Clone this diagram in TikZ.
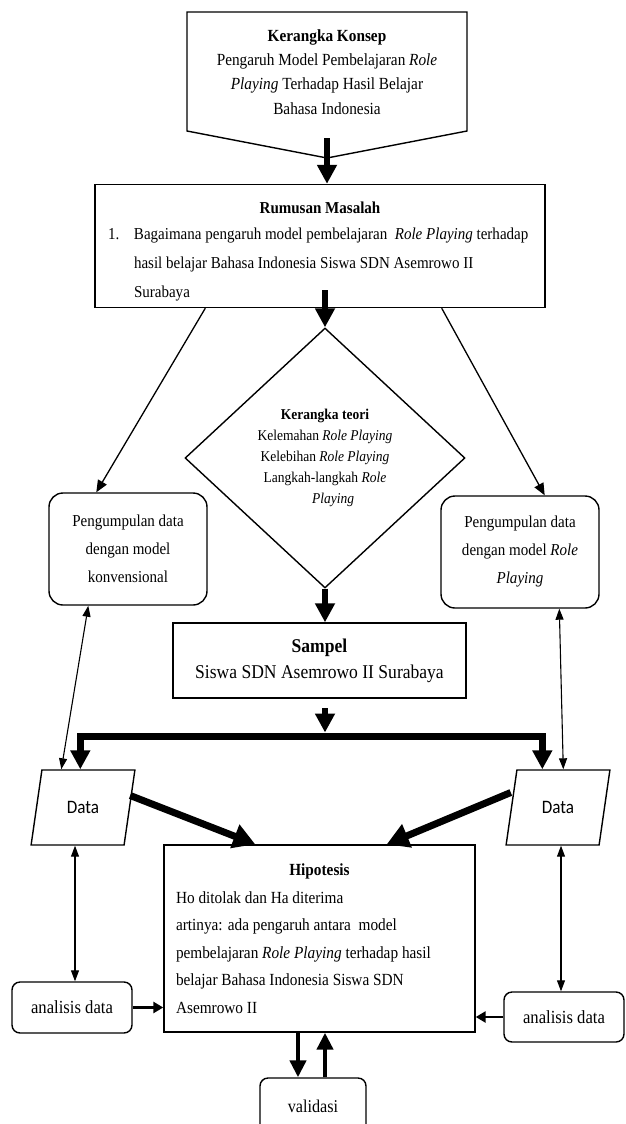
\documentclass[tikz,border=0pt]{standalone}
\usepackage{fontspec}
\setmainfont{Liberation Serif}[FakeStretch=0.9]
\newfontfamily\datafont{Carlito}[FakeStretch=0.9]
\usepackage{tikz}
\usetikzlibrary{arrows.meta,shapes.geometric}

\begin{document}
\begin{tikzpicture}[x=1pt, y=-1pt, line join=miter,
  kotak/.style={draw, line width=1.4pt, inner sep=0pt, align=center, font=\fontsize{17}{24}\selectfont},
  bulat/.style={kotak, rounded corners=14pt, font=\fontsize{16.7}{28}\selectfont},
  jajar/.style={draw, line width=1.4pt, trapezium, trapezium left angle=71, trapezium right angle=109,
    trapezium stretches=true, minimum width=104pt, minimum height=75pt, inner sep=0pt,
    font=\datafont\fontsize{19}{22}\selectfont},
  tebal/.style={line width=5.5pt, -{Triangle[length=19pt,width=19pt]}},
  besar/.style={line width=7pt, -{Triangle[length=22pt,width=24pt]}},
  palangan/.style={line width=7pt, {Triangle[length=19pt,width=19pt]}-{Triangle[length=19pt,width=19pt]}},
  garis/.style={line width=1.3pt, -{Triangle[length=12pt,width=10pt]}},
  dua/.style={line width=1.1pt, {Triangle[length=11pt,width=8pt]}-{Triangle[length=11pt,width=8pt]}},
  sedang/.style={line width=2.5pt, -{Triangle[length=10pt,width=11pt]}},
  valid/.style={line width=4.5pt, -{Triangle[length=17pt,width=16pt]}}]
\useasboundingbox (0,0) rectangle (625,1124);
\clip (0,0) rectangle (625,1124);
%%%%% Kerangka konsep %%%%%
\draw[line width=1.4pt] (187,12) -- (467,12) -- (467,131) -- (327,158) -- (187,131) -- cycle;
\node[align=center, font=\fontsize{17}{24.3}\selectfont] (konsep) at (327,72)
  {\textbf{Kerangka Konsep}\\ Pengaruh Model Pembelajaran \textit{Role}\\ \textit{Playing} Terhadap Hasil Belajar\\ Bahasa Indonesia};
%%%%% Kotak %%%%%
\node[kotak, minimum width=450pt, minimum height=123pt, align=left,
  font=\fontsize{16.7}{29}\selectfont] (rumusan) at (320,246)
  {\rule{0pt}{22pt}\makebox[424pt]{\textbf{Rumusan Masalah}}\\[-3pt]
   \makebox[26pt][l]{1.}Bagaimana pengaruh model pembelajaran\ \ \textit{Role Playing} terhadap\\
   \hspace*{26pt}hasil belajar Bahasa Indonesia Siswa SDN Asemrowo II\\
   \hspace*{26pt}Surabaya};
\node[draw, diamond, line width=1.4pt, minimum width=280pt, minimum height=260pt, inner sep=0pt,
  align=center, font=\fontsize{15}{21}\selectfont] (teori) at (325,458)
  {\textbf{Kerangka teori}\\ Kelemahan \textit{Role Playing}\\ Kelebihan \textit{Role Playing}\\
   Langkah-langkah \textit{Role}\\ \hspace*{16pt}\textit{Playing}};
\node[bulat, minimum width=158pt, minimum height=112pt] (kiri) at (128,549)
  {Pengumpulan data\\ dengan model\\ konvensional};
\node[bulat, minimum width=158pt, minimum height=112pt] (kanan) at (520,552)
  {Pengumpulan data\\ dengan model \textit{Role}\\ \textit{Playing}};
\node[kotak, minimum width=293pt, minimum height=75pt, font=\fontsize{19.5}{26}\selectfont] (sampel) at (319.5,660.5)
  {\textbf{Sampel}\\ Siswa SDN Asemrowo II Surabaya};
\foreach \n/\x in {dataL/83, dataR/558}{
  \node[jajar] (\n) at (\x,807.5) {Data};
}
\node[kotak, minimum width=311pt, minimum height=187pt, align=left,
  font=\fontsize{17}{27.5}\selectfont] (hipotesis) at (319.5,938.5)
  {\makebox[287pt]{\textbf{Hipotesis}}\\ Ho ditolak dan Ha diterima\\ artinya: ada pengaruh antara\ \ model\\
   pembelajaran \textit{Role Playing} terhadap hasil\\ belajar Bahasa Indonesia Siswa SDN\\ Asemrowo II};
\node[bulat, rounded corners=8pt, minimum width=120pt, minimum height=51pt, font=\fontsize{18.5}{22}\selectfont] (analisisL) at (72,1007.5) {analisis data};
\node[bulat, rounded corners=8pt, minimum width=120pt, minimum height=50pt, font=\fontsize{18.5}{22}\selectfont] (analisisR) at (564,1017) {analisis data};
\node[bulat, rounded corners=8pt, minimum width=106pt, minimum height=56pt, font=\fontsize{18}{22}\selectfont] (validasi) at (313,1106) {validasi};
%%%%% Panah %%%%%
\coordinate (k1) at (327,138);
\coordinate (r1) at (325,290);
\coordinate (s1) at (325,708);
\coordinate (palang) at (325,736);
\draw[tebal] (k1) -- (k1 |- rumusan.north);
\draw[tebal] (r1) -- (teori.north);
\draw[garis] ([xshift=111pt]rumusan.south west) -- ([xshift=48pt]kiri.north west);
\draw[garis] ([xshift=-104pt]rumusan.south east) -- ([xshift=-55pt]kanan.north east);
\draw[tebal] (teori.south) -- (teori.south |- sampel.north);
\draw[tebal] (s1) -- ([yshift=3.5pt]palang);
\draw[palangan] ([xshift=39pt]dataL.top left corner) |- (palang) -| ([xshift=26pt]dataR.top left corner);
\draw[dua] ([xshift=40pt]kiri.south west) -- ([xshift=20pt]dataL.top left corner);
\draw[dua] ([xshift=119pt]kanan.south west) -- ([xshift=47pt]dataR.top left corner);
\draw[besar] ([yshift=12pt]dataL.east) -- ([xshift=92pt]hipotesis.north west);
\draw[besar] ([yshift=15pt]dataR.west) -- ([xshift=-89pt]hipotesis.north east);
\draw[dua] ([xshift=3pt]analisisL.north) -- ([xshift=3pt]analisisL.north |- dataL.south);
\draw[dua] ([xshift=-3pt]analisisR.north) -- ([xshift=-3pt]analisisR.north |- dataR.south);
\draw[sedang] (analisisL.east) -- (analisisL.east -| hipotesis.west);
\draw[sedang] (analisisR.west) -- (analisisR.west -| hipotesis.east);
\draw[valid] ([xshift=-15pt]validasi.north |- hipotesis.south) -- ([xshift=-15pt]validasi.north);
\draw[valid] ([xshift=12pt]validasi.north) -- ([xshift=12pt]validasi.north |- hipotesis.south);
\end{tikzpicture}
\end{document}
